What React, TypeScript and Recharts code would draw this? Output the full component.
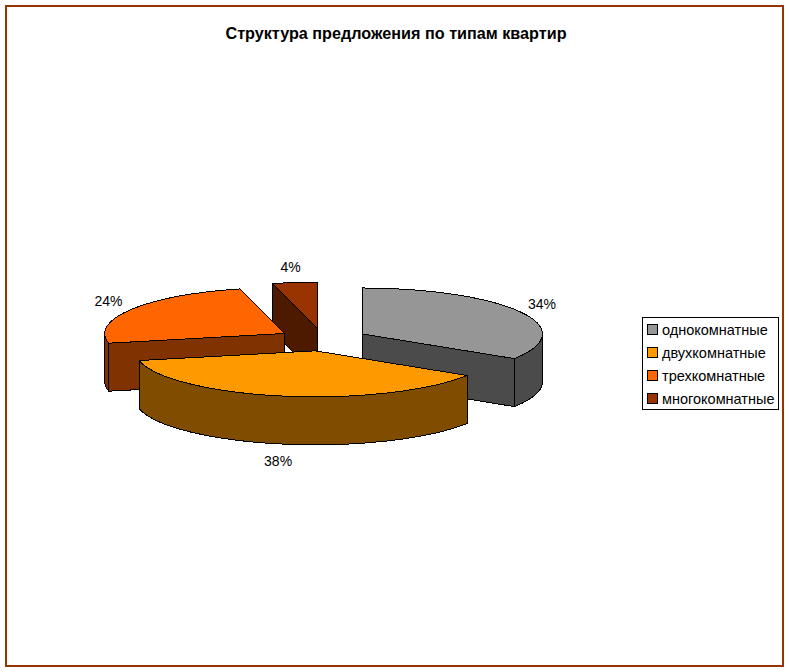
import { Legend, Pie, PieChart } from "recharts";

// Doli kvartir, poryadok srezov obratnyi: tak oranzhevyi risuetsya poverh ostalnyh
const sliceNames = ["однокомнатные", "многокомнатные", "трехкомнатные", "двухкомнатные"];
const sliceValues = [34, 4, 24.4, 37.6];
const sliceColors = ["#969696", "#993300", "#ff6600", "#ff9900"];
const sideColors = ["#4b4b4b", "#4d1a00", "#803300", "#804d00"];

const legendNames = ["однокомнатные", "двухкомнатные", "трехкомнатные", "многокомнатные"];
const legendColors = ["#969696", "#ff9900", "#ff6600", "#993300"];

const data = sliceNames.map((name, i) => ({
  name,
  value: sliceValues[i],
  fill: sliceColors[i],
  side: sideColors[i],
}));

const FONT = "'Liberation Sans', Arial, sans-serif";
const TILT = 46 / 180;
const DEPTH = 48;
const EXPLODE = 0.25;
const RAD = Math.PI / 180;

function toPoint(cx: number, cy: number, r: number, angle: number) {
  return { x: cx + r * Math.cos(angle * RAD), y: cy - r * TILT * Math.sin(angle * RAD) };
}

function Slice3D(props: any) {
  const { cx, cy, outerRadius: r, startAngle, endAngle, midAngle, fill, side } = props;
  const off = toPoint(0, 0, r * EXPLODE, midAngle);
  const x0 = cx + off.x;
  const y0 = cy + off.y;
  const a = toPoint(x0, y0, r, startAngle);
  const b = toPoint(x0, y0, r, endAngle);
  const line = { stroke: "#000", strokeWidth: 1, strokeLinejoin: "round" as const, shapeRendering: "crispEdges" };

  // stenki razreza: snachala zadnyaya
  const cuts = [a, b]
    .sort((p, q) => p.y - q.y)
    .map((p) => `M${x0},${y0}L${p.x},${p.y}L${p.x},${p.y + DEPTH}L${x0},${y0 + DEPTH}Z`);

  // vneshnyaya stenka vidna tolko na perednei polovine ellipsa
  const front = [
    [-180, 0],
    [180, 360],
  ];
  const walls: string[] = [];
  front.forEach(([from, to]) => {
    const lo = Math.max(startAngle, from);
    const hi = Math.min(endAngle, to);
    if (hi <= lo) return;
    const p = toPoint(x0, y0, r, lo);
    const q = toPoint(x0, y0, r, hi);
    walls.push(
      `M${p.x},${p.y}A${r},${r * TILT} 0 0 0 ${q.x},${q.y}` +
        `L${q.x},${q.y + DEPTH}A${r},${r * TILT} 0 0 1 ${p.x},${p.y + DEPTH}Z`,
    );
  });
  const large = endAngle - startAngle > 180 ? 1 : 0;
  const top = `M${x0},${y0}L${a.x},${a.y}A${r},${r * TILT} 0 ${large} 0 ${b.x},${b.y}Z`;

  return (
    <g>
      {cuts.map((d, i) => (
        <path key={i} d={d} fill={side} {...line} />
      ))}
      {walls.map((d, i) => (
        <path key={i} d={d} fill={side} {...line} />
      ))}
      <path d={top} fill={fill} {...line} />
    </g>
  );
}

function sliceLabel(props: any) {
  const { cx, cy, outerRadius: r, midAngle, value } = props;
  const off = toPoint(cx, cy, r * EXPLODE, midAngle);
  const s = Math.sin(midAngle * RAD);
  const x = off.x + (r + 26) * Math.cos(midAngle * RAD) - 1;
  const y = off.y - 62 * s + (s < 0 ? DEPTH + 1 : 0);
  return (
    <text x={x} y={y} textAnchor="middle" dominantBaseline="central" fontFamily={FONT} fontSize={14} fill="#000">
      {Math.round(value)}%
    </text>
  );
}

function LegendBox() {
  return (
    <div style={{ background: "#fff", border: "1px solid #000", boxSizing: "border-box", height: 93, padding: "0 0 0 4px" }}>
      {legendNames.map((name, i) => (
        <div key={name} style={{ display: "flex", alignItems: "center", height: 23, fontFamily: FONT, fontSize: 14.5, color: "#000" }}>
          <span style={{ width: 9, height: 9, background: legendColors[i], border: "1px solid #000", marginRight: 4, flex: "none" }} />
          {name}
        </div>
      ))}
    </div>
  );
}

export default function App() {
  return (
    <div style={{ position: "absolute", left: 0, top: 0, width: 790, height: 672, background: "#fff" }}>
      <div style={{ position: "absolute", left: 5, top: 5, width: 775, height: 658, border: "2px solid #993300" }} />
      <PieChart
        width={790}
        height={672}
        margin={{ top: 0, right: 0, bottom: 0, left: 0 }}
        style={{ position: "absolute", left: 0, top: 0 }}
      >
        <text x={396} y={33} textAnchor="middle" dominantBaseline="central" fontFamily={FONT} fontSize={16.2} fontWeight="bold" fill="#000">
          Структура предложения по типам квартир
        </text>
        <Pie
          data={data}
          dataKey="value"
          nameKey="name"
          cx={323}
          cy={339.5}
          outerRadius={180}
          startAngle={-32.4}
          endAngle={327.6}
          shape={Slice3D}
          label={sliceLabel}
          labelLine={false}
          isAnimationActive={false}
        />
        <Legend content={LegendBox} wrapperStyle={{ left: 642, top: 317, width: 137, height: 93 }} />
      </PieChart>
    </div>
  );
}
